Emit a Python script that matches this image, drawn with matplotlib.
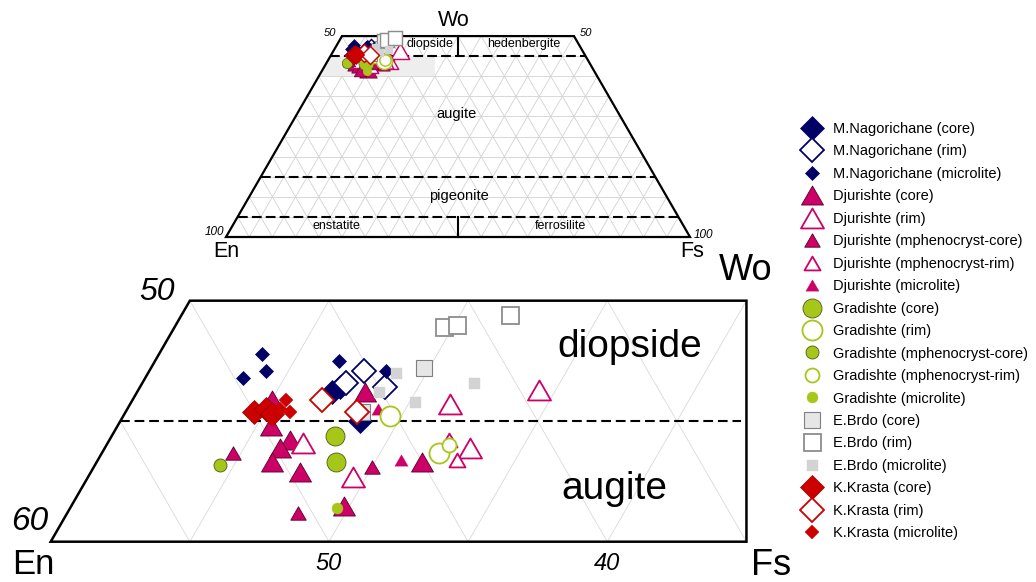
import numpy as np
import matplotlib
matplotlib.use("Agg")
import matplotlib.pyplot as plt
from matplotlib.patches import Polygon, Rectangle
from matplotlib.path import Path

plt.rcParams['font.family'] = ['Liberation Sans', 'DejaVu Sans']
plt.rcParams['lines.scale_dashes'] = False

R3 = np.sqrt(3) / 2

# pyroxene analyses: Wo and Fs in mol% (En = 100 - Wo - Fs)
mn_core_wo = [46.2, 46.4, 45.0]
mn_core_fs = [7.0, 7.2, 8.6]
mn_rim_wo = [46.6, 47.1, 46.4]
mn_rim_fs = [7.3, 7.7, 8.8]
mn_mic_wo = [47.8, 47.1, 46.8, 47.5, 47.1]
mn_mic_fs = [3.7, 4.2, 3.5, 6.6, 8.5]

dj_core_wo = [45.9, 44.8, 44.2, 43.9, 43.3, 42.9, 46.2, 41.5, 43.3]
dj_core_fs = [5.0, 5.5, 6.5, 6.3, 6.3, 7.5, 8.2, 9.8, 11.7]
dj_rim_wo = [44.1, 42.7, 45.7, 46.3, 43.9]
dj_rim_fs = [7.0, 9.5, 11.5, 14.4, 13.1]
dj_mpc_wo = [43.7, 41.2, 43.1]
dj_mpc_fs = [4.7, 8.3, 10.0]
dj_mpr_wo = [44.2, 43.4]
dj_mpr_fs = [12.2, 12.9]
dj_mic_wo = [45.5, 43.4]
dj_mic_fs = [9.0, 10.9]

gr_core_wo = [44.4, 43.3]
gr_core_fs = [8.0, 8.6]
gr_rim_wo = [45.2, 43.7]
gr_rim_fs = [9.6, 12.1]
gr_mpc_wo = [43.2]
gr_mpc_fs = [4.5]
gr_mpr_wo = [44.0]
gr_mpr_fs = [12.3]
gr_mic_wo = [41.4]
gr_mic_fs = [9.6]

eb_core_wo = [47.2, 45.4]
eb_core_fs = [9.8, 8.5]
eb_rim_wo = [48.9, 49.0, 49.4]
eb_rim_fs = [9.7, 10.1, 11.8]
eb_mic_wo = [47.0, 45.8, 46.6, 46.2]
eb_mic_fs = [8.9, 10.2, 11.9, 8.7]

kk_core_wo = [45.4, 45.5, 45.3]
kk_core_fs = [4.6, 5.0, 5.3]
kk_rim_wo = [45.9, 45.4]
kk_rim_fs = [6.8, 8.3]
kk_mic_wo = [45.9, 45.4, 45.5]
kk_mic_fs = [5.5, 5.9, 5.5]


def tern(wo, fs):
    wo = np.asarray(wo, dtype=float) / 100.0
    fs = np.asarray(fs, dtype=float) / 100.0
    return fs + wo / 2, wo * R3


NAVY = '#000066'
MAG = '#cc0066'
MAGD = '#55002a'
GRN = '#a6c71a'
GRND = '#4d5a12'
RED = '#cc0000'
TRI = Path([(-1, -R3), (1, -R3), (0, R3), (-1, -R3)], closed=True)


def dsize(px):
    return px * 0.72 / 1.414


def size(px):
    return px * 0.72


# label, wo, fs, marker, markersize, face, edge, edge width
series = [
    ('M.Nagorichane (core)', mn_core_wo, mn_core_fs, 'D', dsize(24), NAVY, NAVY, 0.5),
    ('M.Nagorichane (rim)', mn_rim_wo, mn_rim_fs, 'D', dsize(23), 'white', NAVY, 1.3),
    ('M.Nagorichane (microlite)', mn_mic_wo, mn_mic_fs, 'D', dsize(14), NAVY, NAVY, 0.5),
    ('Djurishte (core)', dj_core_wo, dj_core_fs, TRI, size(22), MAG, MAGD, 0.6),
    ('Djurishte (rim)', dj_rim_wo, dj_rim_fs, TRI, size(23), 'white', MAG, 1.3),
    ('Djurishte (mphenocryst-core)', dj_mpc_wo, dj_mpc_fs, TRI, size(15.5), MAG, MAGD, 0.6),
    ('Djurishte (mphenocryst-rim)', dj_mpr_wo, dj_mpr_fs, TRI, size(16), 'white', MAG, 1.3),
    ('Djurishte (microlite)', dj_mic_wo, dj_mic_fs, TRI, size(13), MAG, MAG, 0.3),
    ('Gradishte (core)', gr_core_wo, gr_core_fs, 'o', size(19), GRN, GRND, 0.6),
    ('Gradishte (rim)', gr_rim_wo, gr_rim_fs, 'o', size(20), 'white', GRN, 1.3),
    ('Gradishte (mphenocryst-core)', gr_mpc_wo, gr_mpc_fs, 'o', size(13), GRN, GRND, 0.6),
    ('Gradishte (mphenocryst-rim)', gr_mpr_wo, gr_mpr_fs, 'o', size(14), 'white', GRN, 1.3),
    ('Gradishte (microlite)', gr_mic_wo, gr_mic_fs, 'o', size(11), GRN, GRN, 0.3),
    ('E.Brdo (core)', eb_core_wo, eb_core_fs, 's', size(16), '#e6e6e6', '#7f7f7f', 0.8),
    ('E.Brdo (rim)', eb_rim_wo, eb_rim_fs, 's', size(17), 'white', '#8c8c8c', 1.3),
    ('E.Brdo (microlite)', eb_mic_wo, eb_mic_fs, 's', size(11), '#d3d3d3', '#d3d3d3', 0.3),
    ('K.Krasta (core)', kk_core_wo, kk_core_fs, 'D', dsize(23), RED, '#990000', 0.5),
    ('K.Krasta (rim)', kk_rim_wo, kk_rim_fs, 'D', dsize(23), 'white', RED, 1.3),
    ('K.Krasta (microlite)', kk_mic_wo, kk_mic_fs, 'D', dsize(14), RED, RED, 0.3),
]

fig = plt.figure(figsize=(10.36, 5.82), dpi=100)

# ---------------- full quadrilateral ----------------
S = 464.0
ax1 = fig.add_axes([200 / 1036, 1 - 262 / 582, 516 / 1036, 252 / 582])
ax1.set_xlim(-26 / S, 490 / S)
ax1.set_ylim(-25 / S, 227 / S)
ax1.axis('off')

quad = np.column_stack(tern([0, 50, 50, 0], [0, 0, 50, 100]))
clip1 = Polygon(quad, closed=True, transform=ax1.transData)

grid = dict(color='#d2d2d2', lw=0.6, zorder=1)
for k in range(5, 100, 5):
    ln, = ax1.plot(*tern([0, 100 - k], [k, k]), **grid)
    ln.set_clip_path(clip1)
    ln, = ax1.plot(*tern([0, 100 - k], [100 - k, 0]), **grid)
    ln.set_clip_path(clip1)
for w in range(5, 50, 5):
    ax1.plot(*tern([w, w], [0, 100 - w]), **grid)

# shaded field that the enlarged view covers
hl = Rectangle((0.2, 0.40 * R3), 0.25, 0.05 * R3, facecolor='#eeeeee',
               edgecolor='none', zorder=1.5)
ax1.add_patch(hl)
hl.set_clip_path(clip1)

for w in (45, 15, 5):
    ax1.plot(*tern([w, w], [0, 100 - w]), color='black', lw=1.5,
             dashes=(7, 3), zorder=2)
ax1.plot(*tern([45, 50], [27.5, 25]), color='black', lw=1.5, zorder=2)
ax1.plot(*tern([0, 5], [50, 47.5]), color='black', lw=1.5, zorder=2)
ax1.add_patch(Polygon(quad, closed=True, fill=False, edgecolor='black',
                      lw=1.6, zorder=2.5, joinstyle='miter'))

for lab, wo, fs, mk, ms, fc, ec, mw in series:
    ax1.plot(*tern(wo, fs), linestyle='none', marker=mk, ms=ms * 0.8,
             mfc=fc, mec=ec, mew=mw * 0.8, zorder=3, clip_on=False)

t = dict(ha='center', va='center', color='black')
ax1.text(0.491, 0.467, 'Wo', fontsize=15.5, **t)
ax1.text(0.0, -0.032, 'En', fontsize=15.5, **t)
ax1.text(1.004, -0.032, 'Fs', fontsize=15.5, **t)
ax1.text(0.2248, 0.4407, '50', fontsize=8, style='italic', **t)
ax1.text(0.7765, 0.4407, '50', fontsize=8, style='italic', **t)
ax1.text(-0.0259, 0.0108, '100', fontsize=8.5, style='italic', **t)
ax1.text(1.0287, 0.005, '100', fontsize=8.5, style='italic', **t)
ax1.text(0.4397, 0.4153, 'diopside', fontsize=9, **t)
ax1.text(0.6416, 0.416, 'hedenbergite', fontsize=9, **t)
ax1.text(0.4957, 0.265, 'augite', fontsize=10.5, **t)
ax1.text(0.5028, 0.089, 'pigeonite', fontsize=10.5, **t)
ax1.text(0.2377, 0.0244, 'enstatite', fontsize=9, **t)
ax1.text(0.7198, 0.0244, 'ferrosilite', fontsize=9, **t)

# ---------------- enlarged Wo 40-50 field ----------------
B = 2783.0
x0, y0 = tern(40, 0)
ax2 = fig.add_axes([0, 0, 800 / 1036, 317 / 582])
ax2.set_xlim(x0 - 50.7 / B, x0 + (800 - 50.7) / B)
ax2.set_ylim(y0 - (582 - 541.7) / B, y0 + (541.7 - 265) / B)
ax2.axis('off')

field = np.column_stack(tern([40, 50, 50, 40], [0, 0, 20, 25]))
clip2 = Polygon(field, closed=True, transform=ax2.transData)

grid2 = dict(color='#d9d9d9', lw=0.6, zorder=1)
for k in range(5, 100, 5):
    ln, = ax2.plot(*tern([0, 100 - k], [k, k]), **grid2)
    ln.set_clip_path(clip2)
    ln, = ax2.plot(*tern([0, 100 - k], [100 - k, 0]), **grid2)
    ln.set_clip_path(clip2)

ax2.plot(*tern([45, 45], [0, 22.3]), color='black', lw=1.5, dashes=(7, 3.5), zorder=2)
ax2.add_patch(Polygon(field, closed=True, fill=False, edgecolor='black',
                      lw=1.8, zorder=2.5, joinstyle='miter'))

handles = []
for lab, wo, fs, mk, ms, fc, ec, mw in series:
    h, = ax2.plot(*tern(wo, fs), linestyle='none', marker=mk, ms=ms,
                  mfc=fc, mec=ec, mew=mw, zorder=3, label=lab)
    handles.append(h)

ax2.text(0.408, 0.4162, 'diopside', fontsize=28, **t)
ax2.text(0.4024, 0.3654, 'augite', fontsize=28, **t)
ax2.text(0.4498, 0.444, 'Wo', fontsize=26, **t)
ax2.text(0.4588, 0.338, 'Fs', fontsize=26, **t)
ax2.text(0.1936, 0.3383, 'En', fontsize=25, **t)
ax2.text(0.2382, 0.4361, '50', fontsize=23, style='italic', **t)
ax2.text(0.1926, 0.3535, '60', fontsize=24, style='italic', **t)
for en in (50, 40):
    tx, ty = tern(40, 60 - en)
    ax2.text(tx, ty - 0.0078, str(en), fontsize=17, style='italic', **t)

fig.legend(handles=handles, loc='upper left',
           bbox_to_anchor=(796.7 / 1036, 1 - 122 / 582), frameon=False,
           fontsize=10.5, handlelength=2.1, handletextpad=0.4,
           labelspacing=0.58, borderpad=0, borderaxespad=0, numpoints=1)

fig.savefig('out.png', dpi=100, facecolor='white')
